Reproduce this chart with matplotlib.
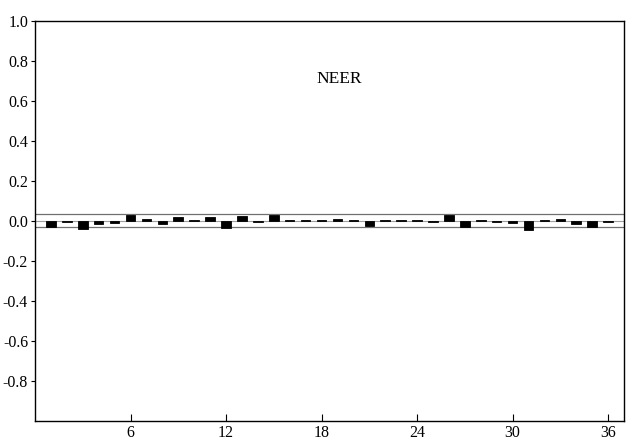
import numpy as np
import matplotlib.pyplot as plt

plt.rcParams['font.family'] = ['Liberation Serif', 'DejaVu Serif']

lags = list(range(1, 37))
acf = [-0.033, -0.008, -0.042, -0.014, -0.010, 0.027, 0.008, -0.018, 0.020, 0.005,
       0.018, -0.035, 0.022, -0.006, 0.028, 0.004, 0.004, 0.005, 0.008, 0.004,
       -0.024, 0.006, 0.004, 0.004, -0.008, 0.030, -0.030, 0.004, -0.006, -0.013,
       -0.045, 0.005, 0.010, -0.018, -0.030, -0.008]
conf_band = 0.033
title = "NEER"
yticks = [-0.8, -0.6, -0.4, -0.2, 0.0, 0.2, 0.4, 0.6, 0.8, 1.0]
xticks = [6, 12, 18, 24, 30, 36]

fig = plt.figure(figsize=(6.26, 4.40), dpi=100)
ax = fig.add_axes([0.0559, 0.0432, 0.9409, 0.9102])

ax.axhline(0, color='#a0a0a0', lw=0.8, zorder=1)
ax.axhline(conf_band, color='#707070', lw=0.9, zorder=1)
ax.axhline(-conf_band, color='#707070', lw=0.9, zorder=1)
ax.bar(lags, acf, width=0.6, color='black', edgecolor='black', lw=0.6, zorder=2)

ax.set_xlim(0, 37)
ax.set_ylim(-1.0, 1.0)
ax.set_xticks(xticks)
ax.set_xticklabels([str(t) for t in xticks])
ax.set_yticks(yticks)
ax.set_yticklabels([f"{t:.1f}".replace('\u2212', '-') for t in yticks])
ax.tick_params(axis='x', direction='in', length=5, labelsize=11.5, pad=3)
ax.tick_params(axis='y', direction='out', length=3, labelsize=11.5, pad=2)

ax.text(19.1, 0.71, title, ha='center', va='center', fontsize=12.5)

for s in ax.spines.values():
    s.set_linewidth(1.0)

fig.savefig('out.png', dpi=100)
